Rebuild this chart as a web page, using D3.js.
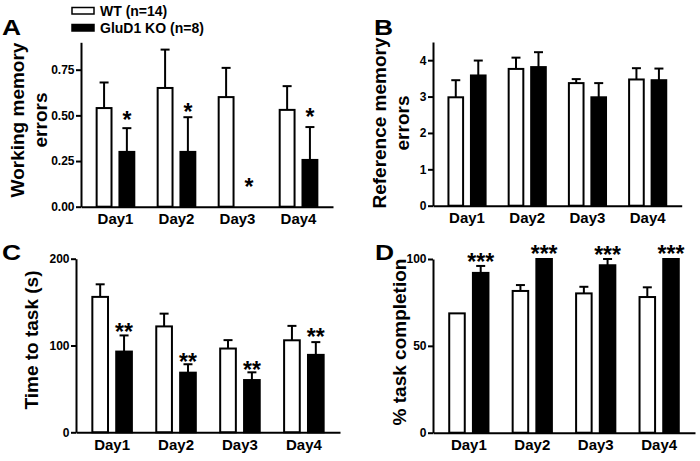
<!DOCTYPE html>
<html>
<head>
<meta charset="utf-8">
<script src="https://cdn.jsdelivr.net/npm/d3@7"></script>
<style>
  html, body { margin: 0; padding: 0; background: #fff; }
  svg { display: block; }
  text { font-family: "Liberation Sans", Arial, sans-serif; font-weight: bold; fill: #000; }
</style>
</head>
<body>
<svg id="chart" width="700" height="461"></svg>
<script>
// ---------- data ----------
const days = ["Day1", "Day2", "Day3", "Day4"];
const groups = ["WT (n=14)", "GluD1 KO (n=8)"];

const wmWT = [0.54, 0.65, 0.60, 0.53];
const wmWTsem = [0.14, 0.21, 0.16, 0.13];
const wmKO = [0.30, 0.30, 0.00, 0.256];
const wmKOsem = [0.13, 0.19, 0.00, 0.18];
const wmStars = ["*", "*", "*", "*"];
const wmStarLevel = [0.50, 0.547, 0.137, 0.52];
const wmTicks = [0, 0.25, 0.5, 0.75];

const rmWT = [2.98, 3.76, 3.37, 3.47];
const rmWTsem = [0.47, 0.31, 0.11, 0.31];
const rmKO = [3.58, 3.81, 2.98, 3.45];
const rmKOsem = [0.41, 0.41, 0.39, 0.32];
const rmTicks = [0, 1, 2, 3, 4];

const ttWT = [156, 122, 96.5, 106];
const ttWTsem = [14.5, 14.7, 9.7, 16.6];
const ttKO = [93, 68.7, 60.2, 89.2];
const ttKOsem = [18.6, 9.7, 8.9, 14.7];
const ttStars = ["**", "**", "**", "**"];
const ttStarLevel = [121, 87, 77, 115];
const ttTicks = [0, 100, 200];

const tcWT = [68.7, 81.6, 80.2, 78.1];
const tcWTsem = [0, 3.4, 3.8, 5.6];
const tcKO = [92, 100, 96.4, 100];
const tcKOsem = [4, 0, 3.6, 0];
const tcStars = ["***", "***", "***", "***"];
const tcStarLevel = [101, 106, 105, 106];
const tcTicks = [0, 50, 100];

// ---------- drawing ----------
const svg = d3.select("#chart");
svg.append("rect").attr("width", 700).attr("height", 461).attr("fill", "#fff");

function panel(cfg) {
  const g = svg.append("g");
  const x = d3.scaleBand().domain(days).range([cfg.left, cfg.right])
    .paddingInner(0.35).paddingOuter(0.24);
  const xi = d3.scaleBand().domain(groups).range([0, x.bandwidth()]).paddingInner(0.26);
  const y = d3.scaleLinear().domain([0, cfg.ymax]).range([cfg.bottom, cfg.top]);

  const rows = [];
  days.forEach((d, i) => {
    rows.push({day: d, grp: groups[0], v: cfg.wt[i], e: cfg.wtSem[i]});
    rows.push({day: d, grp: groups[1], v: cfg.ko[i], e: cfg.koSem[i]});
  });

  // error bars (upper only)
  const eb = g.append("g").attr("stroke", "#000").attr("stroke-width", 2);
  rows.filter(r => r.e > 0).forEach(r => {
    const cx = x(r.day) + xi(r.grp) + xi.bandwidth() / 2;
    eb.append("line").attr("x1", cx).attr("x2", cx).attr("y1", y(r.v)).attr("y2", y(r.v + r.e));
    eb.append("line").attr("x1", cx - 4.5).attr("x2", cx + 4.5).attr("y1", y(r.v + r.e)).attr("y2", y(r.v + r.e));
  });

  // bars
  g.append("g").selectAll("rect").data(rows.filter(r => r.v > 0)).join("rect")
    .attr("x", r => x(r.day) + xi(r.grp) + 1)
    .attr("width", xi.bandwidth() - 2)
    .attr("y", r => y(r.v))
    .attr("height", r => y(0) - y(r.v))
    .attr("fill", r => r.grp === groups[0] ? "#fff" : "#000")
    .attr("stroke", "#000").attr("stroke-width", 2);

  // stars
  if (cfg.stars) {
    g.append("g").selectAll("text").data(days).join("text")
      .attr("x", (d) => x(d) + xi(groups[1]) + xi.bandwidth() / 2)
      .attr("y", (d, i) => y(cfg.starLevel[i]) + 13)
      .attr("text-anchor", "middle")
      .style("font-size", "23px")
      .text((d, i) => cfg.stars[i]);
  }

  // y axis
  const ya = g.append("g").attr("transform", `translate(${cfg.left},0)`)
    .call(d3.axisLeft(y).tickValues(cfg.ticks).tickFormat(cfg.fmt).tickSize(5).tickSizeOuter(0).tickPadding(1.5));
  ya.select(".domain").attr("stroke-width", 2);
  ya.selectAll(".tick line").attr("stroke-width", 2);
  ya.selectAll(".tick text").style("font-size", "12px").style("font-family", "Liberation Sans, Arial, sans-serif").style("font-weight", "bold");

  // x axis
  const xa = g.append("g").attr("transform", `translate(0,${cfg.bottom})`)
    .call(d3.axisBottom(x).tickSize(0).tickPadding(7));
  xa.select(".domain").attr("stroke-width", 2);
  xa.selectAll(".tick text").style("font-size", "15px").style("font-family", "Liberation Sans, Arial, sans-serif").style("font-weight", "bold");

  // y title
  const t = g.append("text").attr("text-anchor", "middle").style("font-size", "19px")
    .attr("transform", `translate(${cfg.titleX},${cfg.titleY}) rotate(-90)`);
  cfg.title.forEach((line, i) => {
    t.append("tspan").attr("x", 0).attr("dy", i === 0 ? 0 : 23).text(line);
  });

  // panel letter
  g.append("text").attr("transform", `translate(${cfg.letterX},${cfg.letterY}) scale(1.2,1)`)
    .style("font-size", "22px").text(cfg.letter);
}

panel({
  left: 81, right: 333, top: 42.3, bottom: 206.7, ymax: 0.9,
  wt: wmWT, wtSem: wmWTsem, ko: wmKO, koSem: wmKOsem,
  stars: wmStars, starLevel: wmStarLevel, ticks: wmTicks, fmt: d3.format(".2f"),
  title: ["Working memory", "errors"], titleX: 24, titleY: 120,
  letter: "A", letterX: 2, letterY: 35
});
panel({
  left: 433, right: 681.7, top: 42, bottom: 205.7, ymax: 4.5,
  wt: rmWT, wtSem: rmWTsem, ko: rmKO, koSem: rmKOsem,
  ticks: rmTicks, fmt: d3.format("d"),
  title: ["Reference memory", "errors"], titleX: 386, titleY: 123,
  letter: "B", letterX: 374, letterY: 35
});
panel({
  left: 76, right: 340, top: 258.7, bottom: 432.3, ymax: 200,
  wt: ttWT, wtSem: ttWTsem, ko: ttKO, koSem: ttKOsem,
  stars: ttStars, starLevel: ttStarLevel, ticks: ttTicks, fmt: d3.format("d"),
  title: ["Time to task (s)"], titleX: 38, titleY: 340,
  letter: "C", letterX: 2, letterY: 260
});
panel({
  left: 433, right: 695, top: 259, bottom: 432.7, ymax: 100,
  wt: tcWT, wtSem: tcWTsem, ko: tcKO, koSem: tcKOsem,
  stars: tcStars, starLevel: tcStarLevel, ticks: tcTicks, fmt: d3.format("d"),
  title: ["% task completion"], titleX: 406, titleY: 342,
  letter: "D", letterX: 375, letterY: 260
});

// legend
const leg = svg.append("g");
groups.forEach((gname, i) => {
  leg.append("rect").attr("x", 72).attr("y", 7.5 + i * 17).attr("width", 22).attr("height", 6.5)
    .attr("fill", i === 0 ? "#fff" : "#000").attr("stroke", "#000").attr("stroke-width", 1.5);
  leg.append("text").attr("x", 100).attr("y", 16 + i * 17).style("font-size", "14px").text(gname);
});
</script>
</body>
</html>
